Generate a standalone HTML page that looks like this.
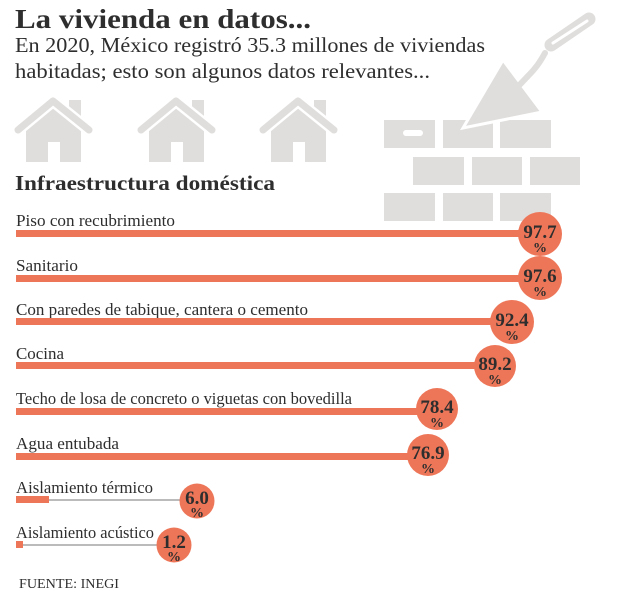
<!DOCTYPE html>
<html><head><meta charset="utf-8"><style>
body{margin:0;background:#fff;}
svg{display:block;}
text{font-family:"Liberation Serif",serif;fill:#2e2e2e;}
</style></head><body>
<svg width="618" height="598" viewBox="0 0 618 598">
<defs>
<g id="house">
<polygon points="26,162 26,130 53,107 81,130 81,162" fill="#e0dedc"/>
<rect x="48" y="142" width="12" height="20" fill="#fff"/>
<rect x="69" y="100" width="12" height="20" fill="#e0dedc"/>
<polyline points="18,130 53,101 89,130" fill="none" stroke="#fff" stroke-width="12" stroke-linecap="round" stroke-linejoin="round"/>
<polyline points="18,130 53,101 89,130" fill="none" stroke="#e0dedc" stroke-width="7" stroke-linecap="round" stroke-linejoin="round"/>
</g>
</defs>
<use href="#house"/>
<use href="#house" x="123"/>
<use href="#house" x="245"/>
<g fill="#e0dedc">
<rect x="384" y="120" width="51" height="28"/><rect x="443" y="120" width="50" height="28"/><rect x="500" y="120" width="51" height="28"/>
<rect x="413" y="157" width="51" height="28"/><rect x="472" y="157" width="50" height="28"/><rect x="530" y="157" width="50" height="28"/>
<rect x="384" y="193" width="51" height="28"/><rect x="443" y="193" width="50" height="28"/><rect x="500" y="193" width="51" height="28"/>
</g>
<rect x="403" y="130" width="20" height="6" rx="3" fill="#fff"/>
<polygon points="503,60 542,112 463,128" fill="#e0dedc" stroke="#fff" stroke-width="3"/>
<path d="M508,97 L528,76 C536,68 540,62 545,53" fill="none" stroke="#e0dedc" stroke-width="6" stroke-linecap="round"/>
<line x1="551" y1="45" x2="589" y2="19" stroke="#e0dedc" stroke-width="13" stroke-linecap="round"/>
<line x1="553" y1="43" x2="587" y2="21" stroke="#fff" stroke-width="3" stroke-linecap="round"/>
<text x="15" y="28" font-size="27" font-weight="bold" textLength="296" lengthAdjust="spacingAndGlyphs">La vivienda en datos...</text>
<text x="15" y="52" font-size="21" textLength="470" lengthAdjust="spacingAndGlyphs">En 2020, México registró 35.3 millones de viviendas</text>
<text x="15" y="78" font-size="21" textLength="415" lengthAdjust="spacingAndGlyphs">habitadas; esto son algunos datos relevantes...</text>
<text x="15" y="190" font-size="21" font-weight="bold" textLength="260" lengthAdjust="spacingAndGlyphs">Infraestructura doméstica</text>
<g font-size="16.5">
<text x="16" y="226" textLength="159" lengthAdjust="spacingAndGlyphs">Piso con recubrimiento</text>
<text x="16" y="271" textLength="62" lengthAdjust="spacingAndGlyphs">Sanitario</text>
<text x="16" y="315" textLength="292" lengthAdjust="spacingAndGlyphs">Con paredes de tabique, cantera o cemento</text>
<text x="16" y="359" textLength="48" lengthAdjust="spacingAndGlyphs">Cocina</text>
<text x="16" y="404" textLength="336" lengthAdjust="spacingAndGlyphs">Techo de losa de concreto o viguetas con bovedilla</text>
<text x="16" y="449" textLength="103" lengthAdjust="spacingAndGlyphs">Agua entubada</text>
<text x="16" y="493" textLength="137" lengthAdjust="spacingAndGlyphs">Aislamiento térmico</text>
<text x="16" y="538" textLength="138" lengthAdjust="spacingAndGlyphs">Aislamiento acústico</text>
</g>
<g fill="#ee7658">
<rect x="16" y="230" width="524" height="7"/>
<rect x="16" y="275" width="524" height="7"/>
<rect x="16" y="318" width="496" height="7"/>
<rect x="16" y="362" width="479" height="7"/>
<rect x="16" y="408" width="421" height="7"/>
<rect x="16" y="453" width="412" height="7"/>
<rect x="16" y="496" width="33" height="7"/>
<rect x="16" y="541" width="7" height="7"/>
</g>
<line x1="49" y1="500" x2="190" y2="500" stroke="#777" stroke-width="1"/>
<line x1="23" y1="545" x2="165" y2="545" stroke="#777" stroke-width="1"/>
<g fill="#ee7658">
<circle cx="540" cy="234" r="22"/>
<circle cx="540" cy="278" r="22"/>
<circle cx="512" cy="322" r="22"/>
<circle cx="495" cy="366" r="21"/>
<circle cx="437" cy="409" r="21"/>
<circle cx="428" cy="455" r="21"/>
<circle cx="197" cy="501" r="17.5"/>
<circle cx="174" cy="545" r="17.5"/>
</g>
<g font-weight="bold" text-anchor="middle" font-size="19" style="fill:#262626">
<text x="540" y="238">97.7</text><text x="540" y="252" font-size="14">%</text>
<text x="540" y="282">97.6</text><text x="540" y="296" font-size="14">%</text>
<text x="512" y="326">92.4</text><text x="512" y="340" font-size="14">%</text>
<text x="495" y="370">89.2</text><text x="495" y="384" font-size="14">%</text>
<text x="437" y="413">78.4</text><text x="437" y="427" font-size="14">%</text>
<text x="428" y="459">76.9</text><text x="428" y="473" font-size="14">%</text>
<text x="197" y="504">6.0</text><text x="197" y="517" font-size="14">%</text>
<text x="174" y="548">1.2</text><text x="174" y="561" font-size="14">%</text>
</g>
<text x="19" y="588" font-size="14" textLength="100" lengthAdjust="spacingAndGlyphs">FUENTE: INEGI</text>
</svg>
</body></html>
